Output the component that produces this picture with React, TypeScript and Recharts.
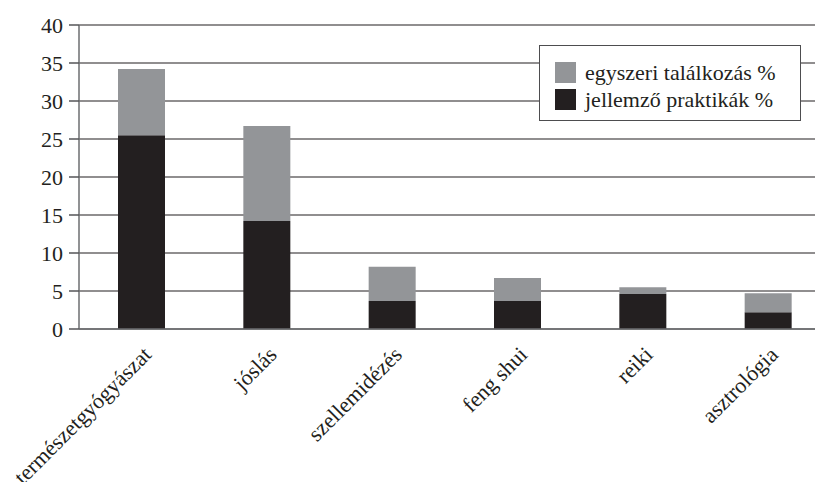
import React from "react";
import {
  BarChart,
  Bar,
  XAxis,
  YAxis,
  CartesianGrid,
  Legend,
} from "recharts";

const categories = [
  "természetgyógyászat",
  "jóslás",
  "szellemidézés",
  "feng shui",
  "reiki",
  "asztrológia",
];
const jellemzo = [25.5, 14.2, 3.7, 3.7, 4.6, 2.2];
const egyszeri = [8.7, 12.5, 4.5, 3.0, 0.9, 2.5];
const yTicks = [0, 5, 10, 15, 20, 25, 30, 35, 40];
const boundaryTicks = [0, 1, 2, 3, 4, 5, 6];

const INK = "#231f20";
const GREY = "#939598";
const FONT = "Liberation Serif";

const data = categories.map((name, i) => ({
  name,
  jellemzo: jellemzo[i],
  egyszeri: egyszeri[i],
}));

const legendItems = [
  { label: "egyszeri találkozás %", color: GREY },
  { label: "jellemző praktikák %", color: INK },
];

const CategoryTick = (props: any) => {
  const { x, y, payload } = props;
  const tx = x + 11;
  const ty = y + 26;
  return (
    <text
      x={tx}
      y={ty}
      transform={`rotate(-45, ${tx}, ${ty})`}
      textAnchor="end"
      style={{ fontFamily: FONT }}
      fontSize={22}
      fill={INK}
    >
      {payload.value}
    </text>
  );
};

const LegendBox = () => (
  <div
    style={{
      width: 262,
      height: 76,
      border: "1.5px solid #4d4d4f",
      background: "#fff",
      boxSizing: "border-box",
      paddingTop: 13,
      paddingLeft: 15,
      fontFamily: FONT,
      fontSize: 22,
      color: INK,
      textAlign: "left",
    }}
  >
    {legendItems.map((item) => (
      <div
        key={item.label}
        style={{ display: "flex", alignItems: "center", height: 27 }}
      >
        <span
          style={{
            display: "inline-block",
            width: 21,
            height: 21,
            background: item.color,
            marginRight: 9,
          }}
        />
        <span>{item.label}</span>
      </div>
    ))}
  </div>
);

export default function App() {
  return (
    <div
      style={{ width: 815, height: 474, overflow: "hidden", fontFamily: FONT }}
    >
      <BarChart
        width={830}
        height={474}
        data={data}
        margin={{ top: 17, right: 7, bottom: 0, left: 0 }}
        barSize={47}
      >
        <CartesianGrid
          vertical={false}
          stroke={INK}
          strokeWidth={1.2}
          horizontalValues={yTicks}
        />
        <XAxis
          xAxisId="bounds"
          type="number"
          dataKey={() => 0}
          domain={[0, 6]}
          ticks={boundaryTicks}
          tick={false}
          tickSize={7}
          tickLine={{ stroke: "#555557", strokeWidth: 1.5 }}
          axisLine={{ stroke: "#6d6e71", strokeWidth: 1.5 }}
          height={1}
          allowDataOverflow
        />
        <XAxis
          xAxisId="cat"
          dataKey="name"
          interval={0}
          tickLine={false}
          axisLine={false}
          tickSize={0}
          tickMargin={0}
          tick={<CategoryTick />}
          height={152}
        />
        <YAxis
          domain={[0, 40]}
          ticks={yTicks}
          interval={0}
          width={71}
          tickSize={10}
          tickMargin={6}
          axisLine={{ stroke: "#6d6e71", strokeWidth: 1.5 }}
          tickLine={{ stroke: "#555557", strokeWidth: 1.5 }}
          tick={{ style: { fontFamily: FONT }, fontSize: 22, fill: INK }}
        />
        <Legend
          layout="horizontal"
          verticalAlign="middle"
          align="center"
          content={<LegendBox />}
          wrapperStyle={{ position: "absolute", top: 37, left: 531, width: 264 }}
        />
        <Bar
          xAxisId="cat"
          dataKey="jellemzo"
          stackId="a"
          fill={INK}
          isAnimationActive={false}
        />
        <Bar
          xAxisId="cat"
          dataKey="egyszeri"
          stackId="a"
          fill={GREY}
          isAnimationActive={false}
        />
      </BarChart>
    </div>
  );
}
